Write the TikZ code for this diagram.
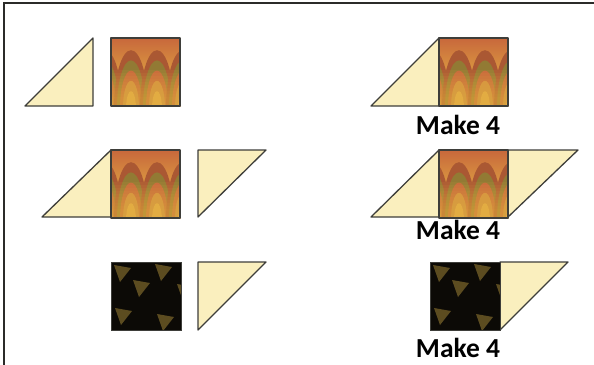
\documentclass[tikz,border=0pt]{standalone}
\usepackage{fontspec}
\setmainfont{Carlito}
\definecolor{cream}{RGB}{250,239,190}
\definecolor{edge}{RGB}{62,62,58}
\definecolor{rust}{RGB}{200,104,60}
\definecolor{gold}{RGB}{226,172,66}
\definecolor{olive}{RGB}{146,122,52}
\definecolor{ink}{RGB}{12,10,6}
\definecolor{spot}{RGB}{92,76,32}
\tikzset{
  patch/.style={draw=edge, line width=1.3pt, line join=round},
  light/.style={patch, fill=cream},
  makelabel/.style={font=\fontsize{27.5}{30}\selectfont\bfseries, inner sep=0pt, anchor=base},
  goldsq/.pic={
    \begin{scope}
      \clip (0,0) rectangle (69,68);
      \fill[top color=rust, bottom color=gold, middle color=gold!70!rust] (0,0) rectangle (69,68);
      % arches of the marbled print
      \foreach \cx in {-6,20,46,72}
        \foreach \r/\c in {17/rust!85!black, 14/olive, 11/rust, 8/gold!60!rust, 5/gold}
          \fill[\c] (\cx+\r,70) arc[start angle=0, end angle=-180, x radius=\r, y radius=3.4*\r] -- cycle;
      \foreach \i in {0,...,9}
        \fill[gold, opacity=0.09] (0,32+3*\i) rectangle (69,68);
    \end{scope}
    \draw[patch] (0,0) rectangle (69,68);
  },
  blacksq/.pic={
    \fill[ink] (0,0) rectangle (70,68);
    \begin{scope}
      \clip (0,0) rectangle (70,68);
      \foreach \px/\py in {3/3, 44/2, 22/18, 4/46, 46/52, 66/22}
        \fill[spot] (\px,\py) -- ++(17,3) -- ++(-11,14) -- cycle;
    \end{scope}
    \draw[edge, line width=0.8pt] (0,0) rectangle (70,68);
  },
}
\begin{document}
\begin{tikzpicture}[x=1pt, y=-1pt]
\useasboundingbox (0,0) rectangle (594,364);
\clip (0,0) rectangle (594,364);
\draw[edge!70!black, line width=1.6pt] (4,3) rectangle (600,370);

% left column: cut pieces
\draw[light] (25,106) -- (93,38) -- (93,106) -- cycle;
\pic at (111,38) {goldsq};
\draw[light] (42,217) -- (111,150) -- (111,217) -- cycle;
\pic at (111,150) {goldsq};
\draw[light] (198,150) -- (266,150) -- (198,217) -- cycle;
\pic at (111,262) {blacksq};
\draw[light] (198,262) -- (266,262) -- (198,330) -- cycle;

% right column: sewn units
\draw[light] (371,106) -- (439,38) -- (439,106) -- cycle;
\pic at (439,38) {goldsq};
\node[makelabel] (make1) at (458,134) {Make 4};
\draw[light] (371,217) -- (439,150) -- (439,217) -- cycle;
\draw[light] (508,150) -- (578,150) -- (508,217) -- cycle;
\pic at (439,150) {goldsq};
\node[makelabel] (make2) at (458,239) {Make 4};
\draw[light] (500,262) -- (568,262) -- (500,330) -- cycle;
\pic at (430,262) {blacksq};
\node[makelabel] (make3) at (458,357) {Make 4};
\end{tikzpicture}
\end{document}
